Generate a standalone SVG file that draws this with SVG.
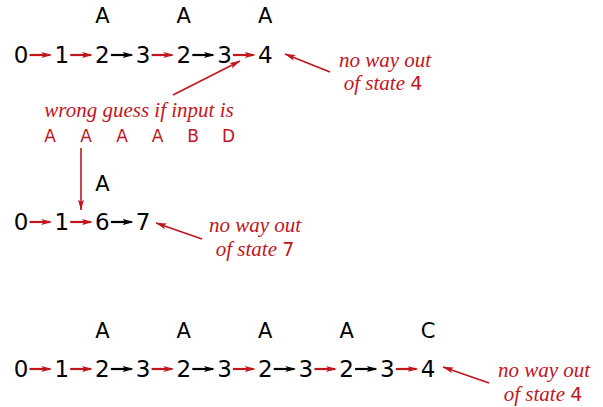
<svg xmlns="http://www.w3.org/2000/svg" width="603" height="407" viewBox="0 0 603 407">
<defs>
<marker id="hr" markerUnits="userSpaceOnUse" markerWidth="11" markerHeight="8" viewBox="0 0 11 8" refX="9" refY="4" orient="auto"><path d="M0,1 L11,4 L0,7 L2.5,4 z" fill="#c0161e"/></marker>
<marker id="hb" markerUnits="userSpaceOnUse" markerWidth="11" markerHeight="8" viewBox="0 0 11 8" refX="9" refY="4" orient="auto"><path d="M0,1 L11,4 L0,7 L2.5,4 z" fill="#000"/></marker>
<marker id="ha" markerUnits="userSpaceOnUse" markerWidth="11" markerHeight="8" viewBox="0 0 11 8" refX="10.5" refY="4" orient="auto"><path d="M0,1 L11,4 L0,7 L2.5,4 z" fill="#c0161e"/></marker>
</defs>
<style>
.d{font-family:"DejaVu Sans","Liberation Sans",sans-serif;font-size:23px;fill:#000;text-anchor:middle}
.l{font-family:"DejaVu Sans","Liberation Sans",sans-serif;font-size:21px;fill:#000;text-anchor:middle}
.rl{font-family:"DejaVu Sans","Liberation Sans",sans-serif;font-size:17px;fill:#c0161e;text-anchor:middle}
.it{font-family:"Liberation Serif",serif;font-style:italic;font-size:21px;fill:#c0161e;text-anchor:middle}
.up{font-family:"DejaVu Sans","Liberation Sans",sans-serif;font-style:normal;font-size:19px}
.r{stroke:#c0161e;stroke-width:2.2;fill:none;marker-end:url(#hr)}
.b{stroke:#000;stroke-width:2.2;fill:none;marker-end:url(#hb)}
.a{stroke:#c0161e;stroke-width:1.6;fill:none;marker-end:url(#ha)}
</style>

<g id="row1">
<g id="r1n0"><text class="d" x="21" y="63">0</text></g>
<g id="r1n1"><text class="d" x="61.7" y="63">1</text></g>
<g id="r1n2"><text class="d" x="102.4" y="63">2</text><text class="l" x="102.4" y="23">A</text></g>
<g id="r1n3"><text class="d" x="143.1" y="63">3</text></g>
<g id="r1n4"><text class="d" x="183.8" y="63">2</text><text class="l" x="183.8" y="23">A</text></g>
<g id="r1n5"><text class="d" x="224.5" y="63">3</text></g>
<g id="r1n6"><text class="d" x="265.2" y="63">4</text><text class="l" x="265.2" y="23">A</text></g>
</g>

<g id="row2">
<g id="r2n0"><text class="d" x="21" y="230">0</text></g>
<g id="r2n1"><text class="d" x="61.7" y="230">1</text></g>
<g id="r2n2"><text class="d" x="102.4" y="230">6</text><text class="l" x="102.4" y="191">A</text></g>
<g id="r2n3"><text class="d" x="143.1" y="230">7</text></g>
</g>

<g id="row3">
<g id="r3n0"><text class="d" x="21" y="377">0</text></g>
<g id="r3n1"><text class="d" x="61.7" y="377">1</text></g>
<g id="r3n2"><text class="d" x="102.4" y="377">2</text><text class="l" x="102.4" y="338">A</text></g>
<g id="r3n3"><text class="d" x="143.1" y="377">3</text></g>
<g id="r3n4"><text class="d" x="183.8" y="377">2</text><text class="l" x="183.8" y="338">A</text></g>
<g id="r3n5"><text class="d" x="224.5" y="377">3</text></g>
<g id="r3n6"><text class="d" x="265.2" y="377">2</text><text class="l" x="265.2" y="338">A</text></g>
<g id="r3n7"><text class="d" x="305.9" y="377">3</text></g>
<g id="r3n8"><text class="d" x="346.6" y="377">2</text><text class="l" x="346.6" y="338">A</text></g>
<g id="r3n9"><text class="d" x="387.3" y="377">3</text></g>
<g id="r3n10"><text class="d" x="428" y="377">4</text><text class="l" x="428" y="338">C</text></g>
</g>

<g id="note-wrong">
<text class="it" x="139" y="117">wrong guess if input is</text>
<text class="rl" x="50" y="142">A</text>
<text class="rl" x="86" y="142">A</text>
<text class="rl" x="122" y="142">A</text>
<text class="rl" x="157.5" y="142">A</text>
<text class="rl" x="193" y="142">B</text>
<text class="rl" x="228.5" y="142">D</text>
</g>
<g id="note-top"><text class="it" x="385" y="67">no way out</text><text class="it" x="383" y="90">of state <tspan class="up">4</tspan></text></g>
<g id="note-mid"><text class="it" x="255" y="232">no way out</text><text class="it" x="255" y="256">of state <tspan class="up">7</tspan></text></g>
<g id="note-bot"><text class="it" x="544" y="377">no way out</text><text class="it" x="543" y="401">of state <tspan class="up">4</tspan></text></g>

<g id="connectors">
<line class="r" x1="29.5" y1="55" x2="50.2" y2="55"/>
<line class="r" x1="70.2" y1="55" x2="90.9" y2="55"/>
<line class="b" x1="110.9" y1="55" x2="131.6" y2="55"/>
<line class="r" x1="151.6" y1="55" x2="172.3" y2="55"/>
<line class="b" x1="192.3" y1="55" x2="213" y2="55"/>
<line class="r" x1="233" y1="55" x2="253.7" y2="55"/>

<line class="r" x1="29.5" y1="222" x2="50.2" y2="222"/>
<line class="r" x1="70.2" y1="222" x2="90.9" y2="222"/>
<line class="b" x1="110.9" y1="222" x2="131.6" y2="222"/>

<line class="r" x1="29.5" y1="369" x2="50.2" y2="369"/>
<line class="r" x1="70.2" y1="369" x2="90.9" y2="369"/>
<line class="b" x1="110.9" y1="369" x2="131.6" y2="369"/>
<line class="r" x1="151.6" y1="369" x2="172.3" y2="369"/>
<line class="b" x1="192.3" y1="369" x2="213" y2="369"/>
<line class="r" x1="233" y1="369" x2="253.7" y2="369"/>
<line class="b" x1="273.7" y1="369" x2="294.4" y2="369"/>
<line class="r" x1="314.4" y1="369" x2="335.1" y2="369"/>
<line class="b" x1="355.1" y1="369" x2="375.8" y2="369"/>
<line class="r" x1="395.8" y1="369" x2="416.5" y2="369"/>

<line class="a" x1="173" y1="95" x2="240" y2="61"/>
<line class="a" x1="330" y1="72" x2="285" y2="54"/>
<line class="a" x1="81" y1="148" x2="81" y2="210"/>
<line class="a" x1="202" y1="239" x2="156" y2="223"/>
<line class="a" x1="489" y1="383" x2="443" y2="367"/>
</g>
</svg>
